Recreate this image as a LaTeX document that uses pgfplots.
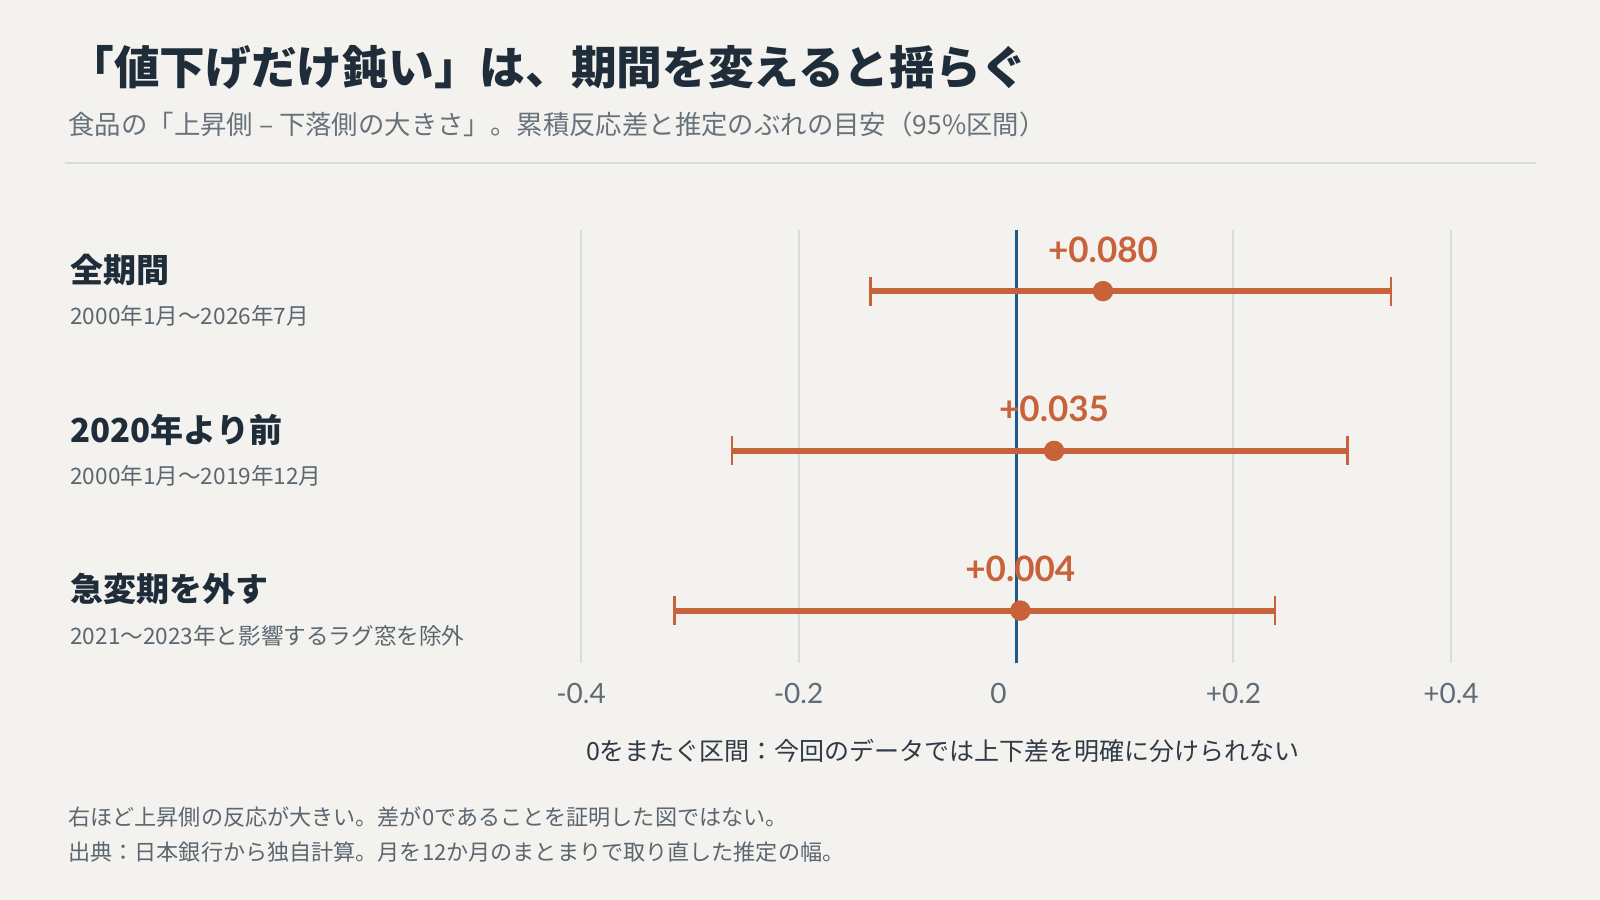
\documentclass[border=0pt]{standalone}
\usepackage{pgfplots}
\pgfplotsset{compat=1.18}
\usepackage{pgfplotstable}
\usepackage{fontspec}
\setmainfont{Noto Sans CJK JP}
\newfontfamily\lato{Lato}
\definecolor{bgc}{HTML}{F4F2EE}
\definecolor{titlec}{HTML}{1F2D3A}
\definecolor{subc}{HTML}{68727C}
\definecolor{rowsubc}{HTML}{5A6670}
\definecolor{gridc}{HTML}{D7DADE}
\definecolor{orangec}{HTML}{C8623A}
\definecolor{zeroc}{HTML}{1F5A8C}
\definecolor{tickc}{HTML}{5F6B76}
\definecolor{xlabc}{HTML}{2E3B47}

\pgfplotstableread{
y val lo hi lab
3 0.080 0.214 0.265 {+0.080}
2 0.035 0.296 0.270 {+0.035}
1 0.004 0.318 0.234 {+0.004}
}\cidata

\begin{document}
\begin{tikzpicture}
\fill[bgc] (0,0) rectangle (800bp,450bp);
% title and subtitle
\node[anchor=base west, inner sep=0, text=titlec, font=\bfseries\fontsize{22.85bp}{26bp}\selectfont] at (34bp,407.5bp) {「値下げだけ鈍い」は、期間を変えると揺らぐ};
\node[anchor=base west, inner sep=0, text=subc, font=\fontsize{13.2bp}{16bp}\selectfont] at (34bp,382.5bp) {食品の「上昇側 – 下落側の大きさ」。累積反応差と推定のぶれの目安（95\%区間）};
\draw[gridc, line width=1bp] (32.5bp,368.5bp) -- (768bp,368.5bp);
% row labels
\node[anchor=base west, inner sep=0, text=titlec, font=\bfseries\fontsize{16.5bp}{19bp}\selectfont] at (35bp,308.6bp) {全期間};
\node[anchor=base west, inner sep=0, text=rowsubc, font=\fontsize{11.3bp}{13bp}\selectfont] at (35bp,287.5bp) {2000年1月〜2026年7月};
\node[anchor=base west, inner sep=0, text=titlec, font=\bfseries\fontsize{16.5bp}{19bp}\selectfont] at (35bp,228.8bp) {2020年より前};
\node[anchor=base west, inner sep=0, text=rowsubc, font=\fontsize{11.3bp}{13bp}\selectfont] at (35bp,207.7bp) {2000年1月〜2019年12月};
\node[anchor=base west, inner sep=0, text=titlec, font=\bfseries\fontsize{16.5bp}{19bp}\selectfont] at (35bp,149bp) {急変期を外す};
\node[anchor=base west, inner sep=0, text=rowsubc, font=\fontsize{11.3bp}{13bp}\selectfont] at (35bp,127.9bp) {2021〜2023年と影響するラグ窓を除外};
% x label and footer
\node[anchor=base, inner sep=0, text=xlabc, font=\fontsize{12.5bp}{15bp}\selectfont] at (471.5bp,69.5bp) {0をまたぐ区間：今回のデータでは上下差を明確に分けられない};
\node[anchor=base west, inner sep=0, text=rowsubc, font=\fontsize{11.05bp}{13bp}\selectfont] at (34bp,37.25bp) {右ほど上昇側の反応が大きい。差が0であることを証明した図ではない。};
\node[anchor=base west, inner sep=0, text=rowsubc, font=\fontsize{11.05bp}{13bp}\selectfont] at (34bp,19.75bp) {出典：日本銀行から独自計算。月を12か月のまとまりで取り直した推定の幅。};
\begin{axis}[
  at={(290.5bp,118.35bp)}, anchor=south west,
  scale only axis, width=435bp, height=216.5bp,
  xmin=-0.4, xmax=0.4, ymin=0.670, ymax=3.381,
  axis line style={draw=none},
  ytick=\empty,
  xtick={-0.4,-0.2,0,0.2,0.4},
  xticklabels={-0.4,-0.2,{0\rule{17.5bp}{0pt}},+0.2,+0.4},
  major tick length=0pt,
  xmajorgrids, major grid style={gridc, line width=1bp},
  xticklabel style={font=\lato\fontsize{14bp}{16bp}\selectfont, text=tickc, anchor=base, yshift=-20bp, inner sep=0pt},
  clip=false,
]
\addplot[zeroc, line width=1.5bp, forget plot] coordinates {(0,0.670) (0,3.381)};
\addplot[only marks, mark=*, mark size=4.9bp, orangec, mark options={fill=orangec, draw=orangec},
  error bars/.cd, x dir=both, x explicit,
  error bar style={line width=3bp, orangec},
  error mark options={line width=1.25bp, mark size=7.25bp, orangec, rotate=90},
] table[x=val, y=y, x error minus=lo, x error plus=hi] {\cidata};
\addplot[only marks, mark=none, orangec,
  nodes near coords, point meta=explicit symbolic,
  every node near coord/.append style={anchor=base, yshift=14.5bp, inner sep=0pt, text=orangec, font=\lato\bfseries\fontsize{17.5bp}{20bp}\selectfont},
] table[x=val, y=y, meta=lab] {\cidata};
\end{axis}
\end{tikzpicture}
\end{document}
